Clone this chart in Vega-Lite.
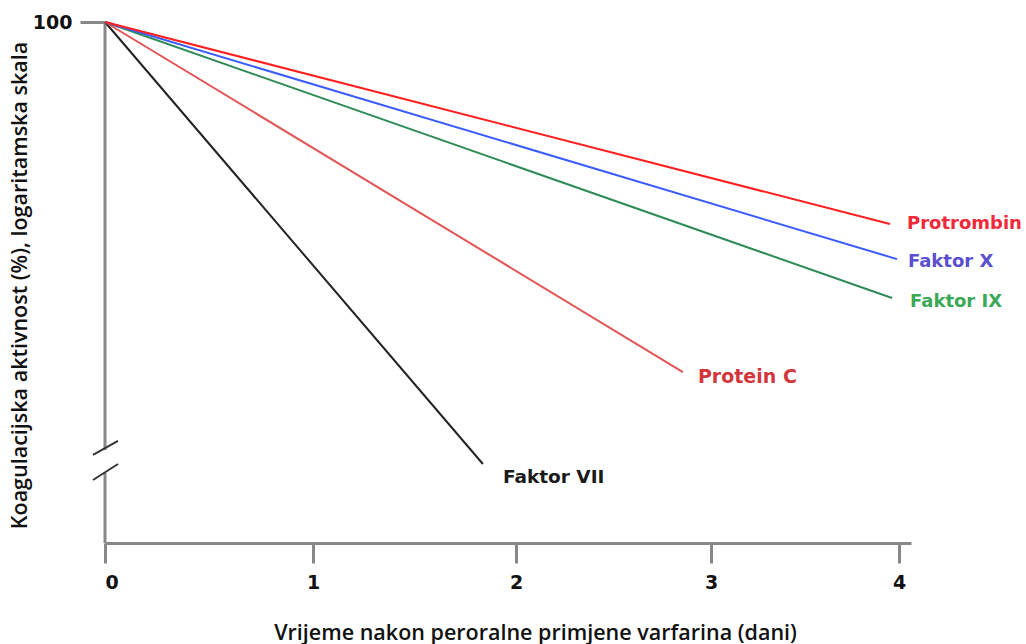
{
  "$schema": "https://vega.github.io/schema/vega-lite/v6.json",
  "autosize": "none",
  "width": 806,
  "height": 521,
  "padding": {"left": 105, "top": 22, "right": 115, "bottom": 101},
  "background": "white",
  "config": {"view": {"stroke": null}},
  "datasets": {
    "curves": [
      {"s": "Faktor VII", "day": 0, "value": 100},
      {"s": "Faktor VII", "day": 1.837, "value": 14.18},
      {"s": "Protein C", "day": 0, "value": 100},
      {"s": "Protein C", "day": 2.856, "value": 21.29},
      {"s": "Faktor IX", "day": 0, "value": 100},
      {"s": "Faktor IX", "day": 3.963, "value": 29.53},
      {"s": "Faktor X", "day": 0, "value": 100},
      {"s": "Faktor X", "day": 3.989, "value": 35.07},
      {"s": "Protrombin", "day": 0, "value": 100},
      {"s": "Protrombin", "day": 3.952, "value": 40.95}
    ],
    "axisline": [
      {"day": 0, "value": 100, "value2": 15.09},
      {"day": 0, "value": 13.63, "value2": 10}
    ],
    "breaks": [
      {"day": -0.0577, "value": 14.76, "day2": 0.0625, "value2": 15.7},
      {"day": -0.0577, "value": 13.21, "day2": 0.0625, "value2": 14.18}
    ]
  },
  "encoding": {
    "x": {
      "field": "day",
      "type": "quantitative",
      "scale": {"domain": [0, 1, 2, 3, 4, 4.06], "range": [0, 208, 411, 606, 794, 806], "nice": false, "zero": false},
      "axis": {
        "values": [0, 1, 2, 3, 4],
        "grid": false,
        "domain": true,
        "domainColor": "#888888",
        "domainWidth": 3,
        "ticks": true,
        "tickSize": 20,
        "tickWidth": 3,
        "tickColor": "#888888",
        "labelFont": "DejaVu Sans",
        "labelFontWeight": "bold",
        "labelFontSize": 19,
        "labelColor": "#111111",
        "labelPadding": 10,
        "format": "d",
        "title": "Vrijeme nakon peroralne primjene varfarina (dani)",
        "titleFont": "Open Sans",
        "titleFontSize": 21.5,
        "titleFontWeight": 600,
        "titleColor": "#111111",
        "titleX": 430,
        "titleY": 90,
        "titleAlign": "center",
        "titleBaseline": "middle"
      }
    },
    "y": {
      "field": "value",
      "type": "quantitative",
      "scale": {"type": "log", "domain": [10, 100], "nice": false, "zero": false},
      "axis": {
        "values": [100],
        "grid": false,
        "domain": false,
        "ticks": true,
        "tickSize": 25,
        "tickWidth": 3,
        "tickColor": "#888888",
        "labelFont": "DejaVu Sans",
        "labelFontWeight": "bold",
        "labelFontSize": 19,
        "labelColor": "#111111",
        "labelPadding": 8,
        "format": "d",
        "title": "Koagulacijska aktivnost (%), logaritamska skala",
        "titleFont": "Open Sans",
        "titleFontSize": 21.5,
        "titleFontWeight": 600,
        "titleColor": "#111111",
        "titleX": -85,
        "titleY": 263,
        "titleAlign": "center",
        "titleBaseline": "middle",
        "titleAngle": -90
      }
    }
  },
  "layer": [
    {
      "data": {"name": "axisline"},
      "mark": {"type": "rule", "color": "#888888", "strokeWidth": 3},
      "encoding": {"y2": {"field": "value2"}}
    },
    {
      "data": {"name": "breaks"},
      "mark": {"type": "rule", "color": "#333333", "strokeWidth": 2},
      "encoding": {"x2": {"field": "day2"}, "y2": {"field": "value2"}}
    },
    {
      "data": {"name": "curves"},
      "mark": {"type": "line", "strokeWidth": 2},
      "encoding": {
        "color": {
          "field": "s",
          "type": "nominal",
          "scale": {
            "domain": ["Faktor VII", "Protein C", "Faktor IX", "Faktor X", "Protrombin"],
            "range": ["#222222", "#e05555", "#2e8b57", "#3a5cff", "#ff1f1f"]
          },
          "legend": null
        },
        "detail": {"field": "s"}
      }
    },
    {
      "data": {"name": "curves"},
      "transform": [{"filter": "datum.s === 'Protrombin' && datum.day > 0"}],
      "mark": {"type": "text", "text": "Protrombin", "align": "left", "baseline": "middle", "dx": 17, "dy": 0, "font": "DejaVu Sans", "fontWeight": "bold", "fontSize": 18, "color": "#f02a3a"}
    },
    {
      "data": {"name": "curves"},
      "transform": [{"filter": "datum.s === 'Faktor X' && datum.day > 0"}],
      "mark": {"type": "text", "text": "Faktor X", "align": "left", "baseline": "middle", "dx": 11, "dy": 3, "font": "DejaVu Sans", "fontWeight": "bold", "fontSize": 18, "color": "#5a4fd0"}
    },
    {
      "data": {"name": "curves"},
      "transform": [{"filter": "datum.s === 'Faktor IX' && datum.day > 0"}],
      "mark": {"type": "text", "text": "Faktor IX", "align": "left", "baseline": "middle", "dx": 18, "dy": 4, "font": "DejaVu Sans", "fontWeight": "bold", "fontSize": 18, "color": "#3aa857"}
    },
    {
      "data": {"name": "curves"},
      "transform": [{"filter": "datum.s === 'Protein C' && datum.day > 0"}],
      "mark": {"type": "text", "text": "Protein C", "align": "left", "baseline": "middle", "dx": 15, "dy": 5, "font": "DejaVu Sans", "fontWeight": "bold", "fontSize": 19, "color": "#d2363c"}
    },
    {
      "data": {"name": "curves"},
      "transform": [{"filter": "datum.s === 'Faktor VII' && datum.day > 0"}],
      "mark": {"type": "text", "text": "Faktor VII", "align": "left", "baseline": "middle", "dx": 20, "dy": 13, "font": "DejaVu Sans", "fontWeight": "bold", "fontSize": 18.5, "color": "#1a1a1a"}
    }
  ]
}
